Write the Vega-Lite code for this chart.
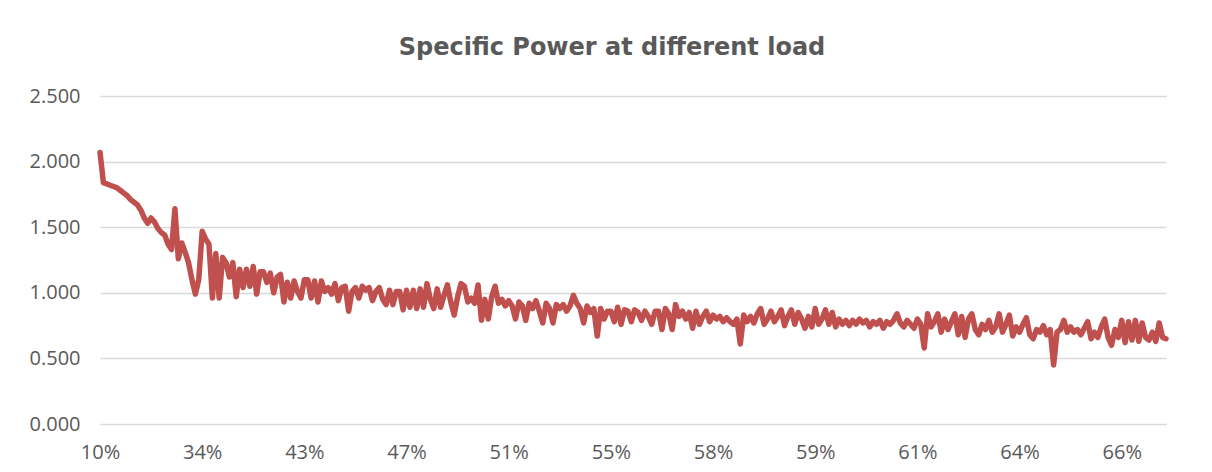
{
  "$schema": "https://vega.github.io/schema/vega-lite/v6.json",
  "autosize": {"type": "none"},
  "width": 1066,
  "height": 328,
  "padding": {"left": 100, "top": 96, "right": 46, "bottom": 48},
  "background": "white",
  "title": {
    "text": "Specific Power at different load",
    "font": "DejaVu Sans",
    "fontSize": 24,
    "fontWeight": "bold",
    "color": "#595959",
    "anchor": "middle",
    "dx": -21,
    "offset": 26
  },
  "config": {
    "view": {"stroke": null},
    "axis": {
      "labelFont": "Open Sans",
      "labelFontSize": 20,
      "labelColor": "#595959",
      "ticks": false,
      "domain": false,
      "title": null
    }
  },
  "data": {
    "values": [
      {"i":0,"v":2.07},{"i":1,"v":1.84},{"i":2,"v":1.83},{"i":3,"v":1.82},{"i":4,"v":1.81},{"i":5,"v":1.80},{"i":6,"v":1.78},{"i":7,"v":1.76},{"i":8,"v":1.74},{"i":9,"v":1.71},
      {"i":10,"v":1.69},{"i":11,"v":1.67},{"i":12,"v":1.63},{"i":13,"v":1.57},{"i":14,"v":1.53},{"i":15,"v":1.57},{"i":16,"v":1.54},{"i":17,"v":1.49},{"i":18,"v":1.46},{"i":19,"v":1.44},
      {"i":20,"v":1.37},{"i":21,"v":1.33},{"i":22,"v":1.64},{"i":23,"v":1.26},{"i":24,"v":1.38},{"i":25,"v":1.31},{"i":26,"v":1.23},{"i":27,"v":1.10},{"i":28,"v":0.99},{"i":29,"v":1.10},
      {"i":30,"v":1.47},{"i":31,"v":1.41},{"i":32,"v":1.37},{"i":33,"v":0.96},{"i":34,"v":1.30},{"i":35,"v":0.96},{"i":36,"v":1.27},{"i":37,"v":1.23},{"i":38,"v":1.12},{"i":39,"v":1.23},
      {"i":40,"v":0.97},{"i":41,"v":1.18},{"i":42,"v":1.04},{"i":43,"v":1.18},{"i":44,"v":1.05},{"i":45,"v":1.20},{"i":46,"v":0.99},{"i":47,"v":1.16},{"i":48,"v":1.16},{"i":49,"v":1.08},
      {"i":50,"v":1.15},{"i":51,"v":1.00},{"i":52,"v":1.12},{"i":53,"v":1.14},{"i":54,"v":0.93},{"i":55,"v":1.08},{"i":56,"v":0.96},{"i":57,"v":1.09},{"i":58,"v":1.01},{"i":59,"v":0.96},
      {"i":60,"v":1.10},{"i":61,"v":1.10},{"i":62,"v":0.96},{"i":63,"v":1.09},{"i":64,"v":0.93},{"i":65,"v":1.09},{"i":66,"v":1.01},{"i":67,"v":1.04},{"i":68,"v":0.99},{"i":69,"v":1.07},
      {"i":70,"v":0.94},{"i":71,"v":1.04},{"i":72,"v":1.05},{"i":73,"v":0.86},{"i":74,"v":1.01},{"i":75,"v":1.04},{"i":76,"v":0.96},{"i":77,"v":1.05},{"i":78,"v":1.02},{"i":79,"v":1.04},
      {"i":80,"v":0.94},{"i":81,"v":1.01},{"i":82,"v":1.04},{"i":83,"v":0.95},{"i":84,"v":0.91},{"i":85,"v":1.02},{"i":86,"v":0.91},{"i":87,"v":1.01},{"i":88,"v":1.01},{"i":89,"v":0.87},
      {"i":90,"v":1.02},{"i":91,"v":0.89},{"i":92,"v":1.02},{"i":93,"v":0.88},{"i":94,"v":1.03},{"i":95,"v":0.89},{"i":96,"v":1.07},{"i":97,"v":0.95},{"i":98,"v":0.88},{"i":99,"v":1.03},
      {"i":100,"v":0.89},{"i":101,"v":0.98},{"i":102,"v":1.06},{"i":103,"v":0.93},{"i":104,"v":0.83},{"i":105,"v":0.97},{"i":106,"v":1.07},{"i":107,"v":1.05},{"i":108,"v":0.93},{"i":109,"v":0.96},
      {"i":110,"v":0.92},{"i":111,"v":1.06},{"i":112,"v":0.79},{"i":113,"v":0.95},{"i":114,"v":0.80},{"i":115,"v":0.97},{"i":116,"v":1.05},{"i":117,"v":0.92},{"i":118,"v":0.95},{"i":119,"v":0.90},
      {"i":120,"v":0.94},{"i":121,"v":0.90},{"i":122,"v":0.80},{"i":123,"v":0.93},{"i":124,"v":0.90},{"i":125,"v":0.79},{"i":126,"v":0.92},{"i":127,"v":0.88},{"i":128,"v":0.94},{"i":129,"v":0.86},
      {"i":130,"v":0.77},{"i":131,"v":0.92},{"i":132,"v":0.88},{"i":133,"v":0.77},{"i":134,"v":0.91},{"i":135,"v":0.88},{"i":136,"v":0.91},{"i":137,"v":0.86},{"i":138,"v":0.90},{"i":139,"v":0.98},
      {"i":140,"v":0.92},{"i":141,"v":0.88},{"i":142,"v":0.77},{"i":143,"v":0.90},{"i":144,"v":0.85},{"i":145,"v":0.88},{"i":146,"v":0.67},{"i":147,"v":0.88},{"i":148,"v":0.80},{"i":149,"v":0.86},
      {"i":150,"v":0.86},{"i":151,"v":0.78},{"i":152,"v":0.89},{"i":153,"v":0.76},{"i":154,"v":0.87},{"i":155,"v":0.86},{"i":156,"v":0.78},{"i":157,"v":0.87},{"i":158,"v":0.85},{"i":159,"v":0.79},
      {"i":160,"v":0.86},{"i":161,"v":0.82},{"i":162,"v":0.76},{"i":163,"v":0.86},{"i":164,"v":0.86},{"i":165,"v":0.72},{"i":166,"v":0.88},{"i":167,"v":0.84},{"i":168,"v":0.72},{"i":169,"v":0.91},
      {"i":170,"v":0.82},{"i":171,"v":0.86},{"i":172,"v":0.80},{"i":173,"v":0.85},{"i":174,"v":0.73},{"i":175,"v":0.86},{"i":176,"v":0.76},{"i":177,"v":0.82},{"i":178,"v":0.86},{"i":179,"v":0.78},
      {"i":180,"v":0.83},{"i":181,"v":0.80},{"i":182,"v":0.82},{"i":183,"v":0.78},{"i":184,"v":0.81},{"i":185,"v":0.78},{"i":186,"v":0.76},{"i":187,"v":0.80},{"i":188,"v":0.61},{"i":189,"v":0.83},
      {"i":190,"v":0.78},{"i":191,"v":0.82},{"i":192,"v":0.77},{"i":193,"v":0.84},{"i":194,"v":0.88},{"i":195,"v":0.76},{"i":196,"v":0.80},{"i":197,"v":0.86},{"i":198,"v":0.78},{"i":199,"v":0.82},
      {"i":200,"v":0.87},{"i":201,"v":0.75},{"i":202,"v":0.82},{"i":203,"v":0.87},{"i":204,"v":0.76},{"i":205,"v":0.85},{"i":206,"v":0.80},{"i":207,"v":0.73},{"i":208,"v":0.82},{"i":209,"v":0.74},
      {"i":210,"v":0.88},{"i":211,"v":0.76},{"i":212,"v":0.80},{"i":213,"v":0.87},{"i":214,"v":0.76},{"i":215,"v":0.85},{"i":216,"v":0.74},{"i":217,"v":0.80},{"i":218,"v":0.76},{"i":219,"v":0.79},
      {"i":220,"v":0.75},{"i":221,"v":0.79},{"i":222,"v":0.76},{"i":223,"v":0.80},{"i":224,"v":0.77},{"i":225,"v":0.79},{"i":226,"v":0.74},{"i":227,"v":0.78},{"i":228,"v":0.76},{"i":229,"v":0.79},
      {"i":230,"v":0.73},{"i":231,"v":0.78},{"i":232,"v":0.76},{"i":233,"v":0.79},{"i":234,"v":0.84},{"i":235,"v":0.77},{"i":236,"v":0.74},{"i":237,"v":0.79},{"i":238,"v":0.76},{"i":239,"v":0.73},
      {"i":240,"v":0.80},{"i":241,"v":0.76},{"i":242,"v":0.58},{"i":243,"v":0.84},{"i":244,"v":0.74},{"i":245,"v":0.78},{"i":246,"v":0.84},{"i":247,"v":0.70},{"i":248,"v":0.80},{"i":249,"v":0.72},
      {"i":250,"v":0.78},{"i":251,"v":0.84},{"i":252,"v":0.68},{"i":253,"v":0.82},{"i":254,"v":0.66},{"i":255,"v":0.80},{"i":256,"v":0.84},{"i":257,"v":0.72},{"i":258,"v":0.68},{"i":259,"v":0.76},
      {"i":260,"v":0.72},{"i":261,"v":0.79},{"i":262,"v":0.70},{"i":263,"v":0.74},{"i":264,"v":0.84},{"i":265,"v":0.70},{"i":266,"v":0.76},{"i":267,"v":0.83},{"i":268,"v":0.67},{"i":269,"v":0.74},
      {"i":270,"v":0.70},{"i":271,"v":0.76},{"i":272,"v":0.81},{"i":273,"v":0.68},{"i":274,"v":0.65},{"i":275,"v":0.72},{"i":276,"v":0.70},{"i":277,"v":0.75},{"i":278,"v":0.68},{"i":279,"v":0.72},
      {"i":280,"v":0.45},{"i":281,"v":0.70},{"i":282,"v":0.72},{"i":283,"v":0.79},{"i":284,"v":0.70},{"i":285,"v":0.74},{"i":286,"v":0.70},{"i":287,"v":0.72},{"i":288,"v":0.68},{"i":289,"v":0.73},
      {"i":290,"v":0.78},{"i":291,"v":0.65},{"i":292,"v":0.70},{"i":293,"v":0.66},{"i":294,"v":0.74},{"i":295,"v":0.80},{"i":296,"v":0.66},{"i":297,"v":0.60},{"i":298,"v":0.72},{"i":299,"v":0.66},
      {"i":300,"v":0.79},{"i":301,"v":0.62},{"i":302,"v":0.78},{"i":303,"v":0.64},{"i":304,"v":0.79},{"i":305,"v":0.63},{"i":306,"v":0.77},{"i":307,"v":0.66},{"i":308,"v":0.64},{"i":309,"v":0.70},
      {"i":310,"v":0.63},{"i":311,"v":0.77},{"i":312,"v":0.66},{"i":313,"v":0.65}
    ]
  },
  "mark": {"type": "line", "color": "#C0504D", "strokeWidth": 5.5, "strokeJoin": "round", "strokeCap": "round"},
  "encoding": {
    "x": {
      "field": "i",
      "type": "quantitative",
      "scale": {"domain": [0, 313], "nice": false, "zero": false},
      "axis": {
        "values": [0, 30, 60, 90, 120, 150, 180, 210, 240, 270, 300],
        "labelExpr": "['10%','34%','43%','47%','51%','55%','58%','59%','61%','64%','66%'][round(datum.value / 30)]",
        "grid": false,
        "labelPadding": 18,
        "labelFlush": false
      }
    },
    "y": {
      "field": "v",
      "type": "quantitative",
      "scale": {"domain": [0, 2.5], "nice": false},
      "axis": {
        "values": [0, 0.5, 1, 1.5, 2, 2.5],
        "format": ".3f",
        "grid": true,
        "gridColor": "#d9d9d9",
        "gridWidth": 1.5,
        "labelPadding": 20
      }
    }
  }
}
